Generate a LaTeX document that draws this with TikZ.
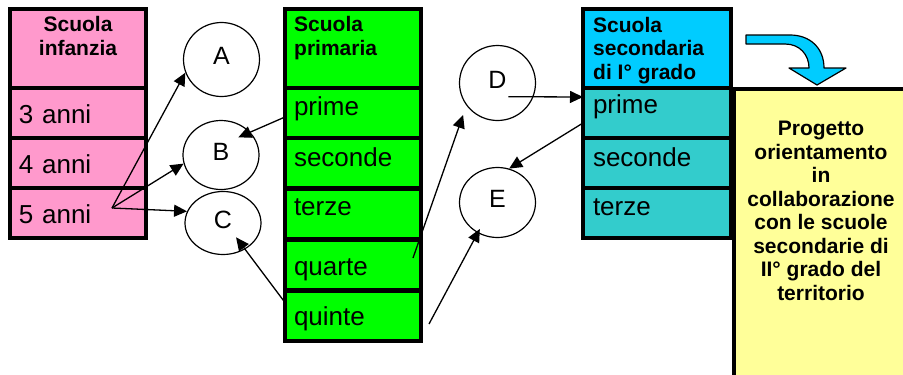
\documentclass[tikz,border=0pt]{standalone}
\usepackage{fontspec}
\setmainfont{Liberation Sans}
\usetikzlibrary{shapes.geometric}
\usetikzlibrary{arrows.meta}

\definecolor{pinkrow}{RGB}{255,153,204}
\definecolor{greenrow}{RGB}{0,255,0}
\definecolor{cyanhead}{RGB}{0,204,255}
\definecolor{tealrow}{RGB}{51,204,204}
\definecolor{yellowbox}{RGB}{255,255,153}

\begin{document}
\begin{tikzpicture}[
      x=1pt, y=-1pt,
      col_box/.style={draw=black, line width=4pt, outer sep=0pt},
      head_box/.style={col_box, minimum height=79pt},
      row_box/.style={col_box, minimum height=50pt, text depth=0pt, text height=#1,
                      align=left, inner xsep=9pt, font=\fontsize{26}{30}\selectfont},
      row_box/.default=0pt,
      head_text/.style={font=\bfseries\fontsize{21}{23.5}\selectfont, inner sep=0pt},
      ring/.style={draw=black, ellipse, line width=1.2pt, inner sep=0pt,
                   font=\fontsize{25}{28}\selectfont, text height=18pt, text depth=8pt},
      link/.style={line width=1.3pt, -{Triangle[length=13pt,width=12pt]}}
    ]

    \clip (0,0) rectangle (903,375);

    % ------------------------------------------------------------------ %
    % Project box
    % ------------------------------------------------------------------ %

    \node[col_box, fill=yellowbox, anchor=north west, minimum width=200pt, minimum height=320pt] (proj) at (734,88.5) {};
    \node[head_text, align=center, anchor=base] (proj_text) at (821,300) {Progetto\\orientamento\\in\\collaborazione\\con le scuole\\secondarie di\\II° grado del\\territorio};

    % ------------------------------------------------------------------ %
    % Scuola infanzia
    % ------------------------------------------------------------------ %

    \node[head_box, fill=pinkrow, minimum width=136pt] (k0) at (78,48.5) {};
    \node[head_text, align=center, anchor=base] (k0_text) at (78,55) {Scuola\\infanzia};
    \node[row_box=20pt, fill=pinkrow, text width=118pt] (k3) at (78,113) {3 anni};
    \node[row_box=20pt, fill=pinkrow, text width=118pt] (k4) at (78,163) {4 anni};
    \node[row_box=20pt, fill=pinkrow, text width=118pt] (k5) at (78,213) {5 anni};

    % ------------------------------------------------------------------ %
    % Scuola primaria
    % ------------------------------------------------------------------ %

    \node[head_box, fill=greenrow, minimum width=136pt] (g0) at (353,48.5) {};
    \node[head_text, align=left, anchor=base west] (g0_text) at (294,55) {Scuola\\primaria};
    \node[row_box=4pt, fill=greenrow, text width=118pt] (g1) at (353,113) {prime};
    \node[row_box=6pt, fill=greenrow, text width=118pt] (g2) at (353,163) {seconde};
    \node[row_box=3pt, fill=greenrow, text width=118pt] (g3) at (353,213.5) {terze};
    \node[row_box=21pt, fill=greenrow, text width=118pt] (g4) at (353,264.5) {quarte};
    \node[row_box=19pt, fill=greenrow, text width=118pt] (g5) at (353,315.5) {quinte};

    % ------------------------------------------------------------------ %
    % Scuola secondaria di I grado
    % ------------------------------------------------------------------ %

    \node[head_box, fill=cyanhead, minimum width=148pt] (s0) at (657,48.5) {};
    \node[head_text, align=left, anchor=base west] (s0_text) at (593,79) {Scuola\\secondaria\\di I° grado};
    \node[row_box=0pt, fill=tealrow, text width=128pt, inner xsep=10pt] (s1) at (657,113) {prime};
    \node[row_box=6pt, fill=tealrow, text width=128pt, inner xsep=10pt] (s2) at (657,163) {seconde};
    \node[row_box=4pt, fill=tealrow, text width=128pt, inner xsep=10pt] (s3) at (657,213) {terze};

    % curved arrow down to the project
    \draw[fill=cyanhead, draw=black, line width=1.2pt, line join=round]
      (746,35) -- (790,35) .. controls (810,35) and (824,48) .. (824,68)
      -- (846,68) -- (817,85) -- (789,68) -- (809,68)
      .. controls (809,55) and (800,44) .. (785,44) -- (746,44) -- cycle;

    % ------------------------------------------------------------------ %
    % Circles
    % ------------------------------------------------------------------ %

    \node[ring, minimum width=76pt, minimum height=74pt] (A) at (221.5,59.5) {A};
    \node[ring, minimum width=76pt, minimum height=69pt] (B) at (221,155) {B};
    \node[ring, minimum width=76pt, minimum height=63pt] (C) at (223,223) {C};
    \node[ring, minimum width=76pt, minimum height=75pt] (D) at (497.5,83) {D};
    \node[ring, minimum width=76pt, minimum height=70pt] (E) at (497.5,202.5) {E};

    % ------------------------------------------------------------------ %
    % Arrows
    % ------------------------------------------------------------------ %

    \coordinate (k5_out) at (112,208);
    \coordinate (g1_out) at ([yshift=-4pt]g1.west);
    \coordinate (g4_out) at ([xshift=-8pt,yshift=6.5pt]g4.east);
    \coordinate (g5_out) at ([yshift=13pt]g5.west);
    \coordinate (g5_right) at ([xshift=8pt,yshift=-8.5pt]g5.east);
    \coordinate (s1_in) at ([yshift=16pt]s1.west);
    \coordinate (s1_out) at ([yshift=-10pt]s1.west);

    \draw[link] (k5_out) -- (A.200);
    \draw[link] (k5_out) -- (B.193);
    \draw[link] (k5_out) -- (C.162);
    \draw[link, shorten >=-13pt] (g1_out) -- (B.38);
    \draw[link, shorten >=-15pt] (g5_out) -- (C.-50);
    \draw[link, shorten >=10pt] (g4_out) -- (D.216);
    \draw[link, shorten >=-4.6pt] (g5_right) -- (E.237);
    \draw[link, shorten <=-25pt] (D.-21) -- (s1_in);
    \draw[link] (s1_out) -- (E.71);

    \end{tikzpicture}
\end{document}
